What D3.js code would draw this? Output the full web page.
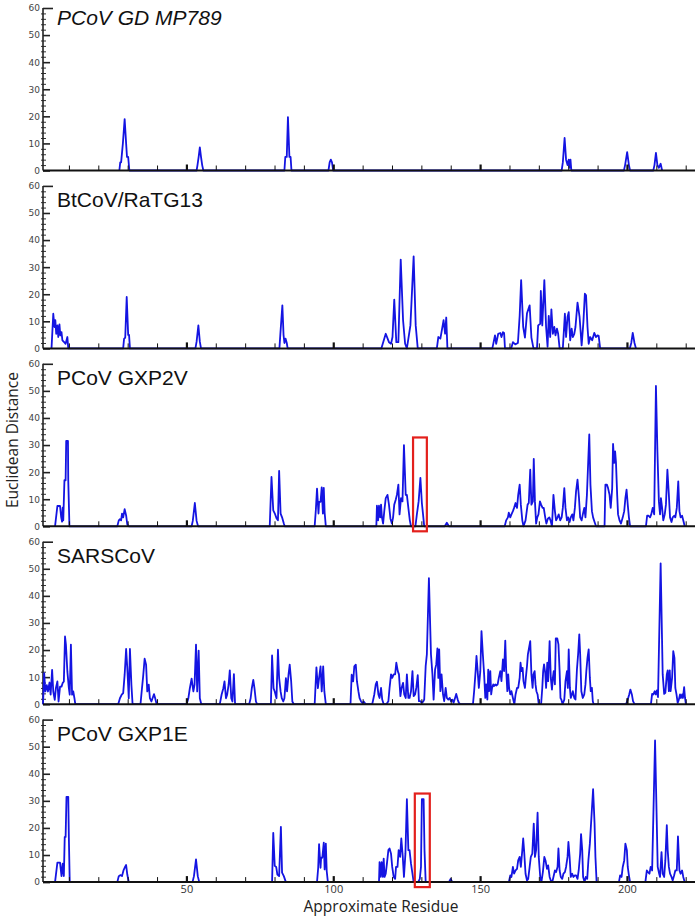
<!DOCTYPE html>
<html lang="en">
<head>
<meta charset="UTF-8">
<title>Euclidean distance by residue</title>
<script src="https://d3js.org/d3.v7.min.js"></script>
<style>
  body { margin: 0; background: #fff; }
  svg { display: block; }
  .title { font-family: 'Liberation Sans', Arial, sans-serif; font-size: 21px; fill: #111; }
  .ylab { font-family: 'DejaVu Sans', sans-serif; font-size: 9px; fill: #444; }
  .xlab { font-family: 'Open Sans', sans-serif; font-size: 11px; fill: #333; }
  .axtitle { font-family: 'Open Sans', sans-serif; font-size: 15.5px; fill: #222; }
</style>
</head>
<body>
<svg></svg>
<script>
// panel names, top to bottom
const panelNames = ["PCoV GD MP789", "BtCoV/RaTG13", "PCoV GXP2V", "SARSCoV", "PCoV GXP1E"];

// [residue, euclidean distance]
const gdMP789 = [
  [27.0,0],[27.3,3],[27.6,3],[28.2,10],[28.8,19],[29.3,10],[29.6,5],[30.0,5],[30.4,0],
  [53.3,0],[53.6,2],[54.0,5],[54.4,8.5],[54.8,5],[55.2,2],[55.6,0],
  [83.2,0],[83.5,5],[84.0,5],[84.4,19.7],[84.9,5],[85.3,5],[85.6,0],
  [98.2,0],[98.6,3],[99.0,4],[99.4,3],[99.8,0],
  [177.6,0],[178.0,3],[178.6,12],[179.1,4],[179.6,2],[180.0,4],[180.3,1],[180.6,4],[180.9,0],
  [198.8,0],[199.2,2],[199.9,6.8],[200.5,2],[200.9,0],
  [208.8,0],[209.2,2],[209.7,6.5],[210.2,2],[210.7,1],[211.3,2.5],[211.8,0]
];

const ratg13 = [
  [3.9,0],[4.5,12.8],[4.9,7.9],[5.2,10.4],[5.5,5.4],[5.9,8.5],[6.2,4.2],[6.6,8.9],[6.9,4.8],[7.3,6.0],[7.6,3],[8.2,2.3],[8.7,1.7],[9.3,4.2],[9.6,0],
  [28.3,0],[28.6,3.5],[29.0,4],[29.5,19],[30.0,5],[30.3,5],[30.6,0],
  [52.9,0],[53.3,2.5],[53.9,8.5],[54.4,2.5],[54.8,0],
  [81.5,0],[81.8,5],[82.5,15.9],[82.9,5],[83.2,2],[83.6,3.6],[84.0,2],[84.3,0],
  [116.2,0],[117.7,5.4],[118.8,2.3],[119.5,1.7],[120.0,4.2],[120.6,18],[121.3,2.3],[122.0,2.3],[122.8,32.8],[123.6,10.4],[124.3,1.7],[124.9,0],[126.1,8.5],[127.2,34],[127.9,8.5],[128.6,0],
  [135.1,0],[135.6,4.2],[136.3,3.6],[137.4,10.4],[137.9,5.4],[138.3,11.4],[138.7,0],
  [154.0,0],[154.9,4.8],[155.3,1.7],[156.0,5.4],[156.7,5.7],[157.1,4.2],[157.6,6.0],[158.0,5.7],[158.3,0],
  [160.4,0],[161.0,2.3],[161.8,1.5],[162.7,2],[163.3,12],[163.8,25.2],[164.5,8],[165.1,4],[165.8,13],[166.7,15.9],[167.3,4],[168.0,0],
  [169.2,0],[169.6,8.5],[170.3,9.1],[170.5,21.2],[171.0,8.5],[171.7,25.2],[172.3,7.9],[172.8,0.6],[173.2,12],[173.7,4.2],[174.1,14.4],[174.6,5.4],[175.1,7.9],[175.5,4.8],[176.0,7.3],[176.4,5.4],[176.9,0],
  [178.0,0],[178.7,12.8],[179.1,4.2],[179.6,11.6],[180.0,13.4],[180.5,3],[181.0,7.3],[181.4,4.2],[181.9,5.4],[182.3,7.9],[183.0,16.9],[183.7,11.6],[184.4,1.1],[185.0,9.7],[185.5,20.2],[185.9,19.6],[186.4,7.9],[186.8,1.7],[187.3,4.2],[188.0,3],[188.7,5.7],[189.3,4.2],[189.8,4.8],[190.2,4.6],[190.7,0],
  [200.8,0],[201.3,2],[201.8,5.7],[202.4,2],[202.9,0]
];

const gxp2v = [
  [5.1,0],[5.9,7.5],[6.8,7.5],[7.2,3.3],[7.5,1.7],[7.7,6.9],[7.9,2.2],[8.3,17],[8.7,17],[8.9,31.5],[9.5,31.5],[9.6,17],[10.0,0],
  [26.3,0],[26.8,2.2],[27.2,2.6],[27.6,2.2],[27.9,4.7],[28.3,3.3],[28.8,6.3],[29.3,4],[29.7,0.7],[30.2,0],
  [51.6,0],[52.0,2],[52.7,8.6],[53.3,2],[53.8,0],
  [78.2,0],[78.8,18.2],[79.4,5.9],[79.9,4.8],[80.5,3],[81.0,2.2],[81.4,20.5],[81.9,4.7],[82.4,3.3],[83.0,1],[83.3,0],
  [93.5,0],[93.9,6],[94.3,13.9],[94.8,4.7],[95.0,9],[95.5,9],[95.9,14.4],[96.3,4.7],[96.6,14.2],[96.9,5],[97.3,0],
  [114.5,0],[114.7,7.6],[115.1,2.2],[115.4,7.6],[115.8,3.3],[116.1,8],[116.4,3.3],[116.8,1],[117.2,5.6],[117.7,10.4],[118.3,11.6],[118.8,8],[119.3,2.8],[119.8,1],[120.2,3.3],[120.6,8],[121.1,9.8],[121.5,11.6],[122.0,15.4],[122.4,4.4],[122.9,10.4],[123.4,9.2],[123.9,30],[124.5,11.6],[124.9,11.6],[125.4,6.8],[125.9,2.2],[126.3,0],
  [127.8,0],[128.3,4.4],[128.9,9.2],[129.5,17.9],[130.0,8.6],[130.4,4.4],[130.8,0],
  [137.8,0],[138.5,1.3],[139.2,0],
  [158.2,0],[158.7,2.2],[159.3,3.3],[159.6,5],[160.1,3.3],[160.5,4.4],[161.0,5.6],[161.4,6.8],[161.9,8.6],[162.4,6.8],[162.8,11.6],[163.3,15.4],[163.7,8],[164.2,2.2],[164.6,0],
  [165.3,2.2],[166.0,8],[166.4,8.6],[166.9,20.9],[167.3,8],[167.8,9.2],[168.1,24.9],[168.5,9.2],[168.9,1],[169.3,3.3],[169.7,4.4],[170.2,9.2],[170.6,8],[171.1,6.8],[171.5,6.8],[172.0,3.3],[172.4,1],[172.9,2.8],[173.4,3.3],[173.8,2.2],[174.3,0],
  [174.8,11.6],[175.3,5.6],[175.7,2.2],[176.2,3.3],[176.6,4.4],[177.1,2.2],[177.6,3.3],[178.0,6.8],[178.5,14.1],[178.9,6.8],[179.4,2.2],[179.8,3.3],[180.3,1.6],[180.7,3.3],[181.2,4.4],[181.6,2.2],[182.1,6.8],[182.5,12.9],[183.0,17.2],[183.5,10.4],[183.9,3.3],[184.4,2.2],[184.8,4.4],[185.3,6.8],[185.7,3.3],[186.2,11.6],[187.0,33.9],[187.4,15.4],[187.9,5.6],[188.3,3.3],[188.8,1.6],[189.3,0],
  [192.2,0],[192.5,15.4],[193.0,15.4],[193.4,14.1],[193.9,11.6],[194.3,6.8],[194.8,14.1],[195.1,30.4],[195.5,23.4],[195.8,27.7],[196.1,23.4],[196.5,11.6],[196.8,4.4],[197.3,2.2],[197.8,1],[198.4,3.3],[198.9,5.6],[199.3,10.4],[199.7,13.5],[200.1,8],[200.5,3.3],[200.9,0],
  [206.3,0],[206.7,3.9],[207.2,3.9],[207.7,3.3],[208.1,4.4],[208.6,6.8],[209.1,4.4],[209.7,51.8],[210.2,27.7],[210.7,9.2],[211.1,4.4],[211.4,10.4],[211.8,6.8],[212.2,2.2],[212.7,4.4],[213.1,8],[213.6,20.9],[214.1,11.6],[214.5,3.3],[215.0,1.6],[215.4,3.3],[215.9,3.9],[216.3,3.3],[216.8,6.8],[217.3,16.6],[217.7,5.6],[218.1,3.3],[218.6,3.9],[219.0,2.2],[219.5,0]
];

const sarscov = [
  [1.0,0],[1.4,11.5],[1.8,4.7],[2.3,7],[2.7,4.7],[3.2,8],[3.6,3.5],[4.1,12.7],[4.5,4.7],[5.0,1.6],[5.4,6],[5.9,8.4],[6.3,1],[6.8,6.5],[7.3,6.5],[7.7,7.8],[8.1,8.4],[8.5,25],[8.8,22],[9.3,12],[9.8,6],[10.1,3.5],[10.5,22],[10.9,3.5],[11.3,4.7],[11.7,2.2],[12.0,0],
  [26.6,0],[27.2,2.2],[27.8,3.5],[28.3,4.1],[28.8,10.9],[29.3,20.4],[29.7,13.3],[30.2,2.2],[30.6,20.4],[31.1,7.2],[31.5,0],
  [34.2,0],[34.7,5.9],[35.1,10.3],[35.6,16.8],[36.1,14.6],[36.5,4.7],[37.0,7.2],[37.4,2.2],[37.9,1],[38.3,2.2],[38.8,3.7],[39.2,2.2],[39.7,0],
  [49.9,0],[50.5,2.2],[51.0,5.9],[51.6,9.4],[52.2,4.7],[52.6,7.2],[53.1,22],[53.5,4.7],[54.0,19.8],[54.4,2.2],[54.9,0],
  [61.2,0],[61.8,3.5],[62.4,5.9],[62.8,8.4],[63.3,2.2],[63.7,3.5],[64.2,7.2],[64.6,12.5],[65.1,2.2],[65.5,1],[66.0,11.1],[66.4,0],
  [71.2,0],[71.7,2.2],[72.1,5.9],[72.6,9],[73.0,5.9],[73.5,1],[73.9,0],
  [78.6,0],[79.0,18],[79.5,5.9],[79.9,4.7],[80.5,2.2],[81.0,20.1],[81.4,9.6],[81.9,4.7],[82.3,2.2],[82.8,1],[83.2,2.2],[83.7,9.6],[84.1,4.7],[84.6,10.9],[85.0,14.6],[85.5,8.4],[85.9,1],[86.4,0],
  [93.5,0],[94.1,13.6],[94.6,5.9],[95.0,9.6],[95.5,14],[95.9,4.7],[96.4,14],[96.8,4.7],[97.3,0],
  [105.7,0],[106.1,10.9],[106.6,8.4],[107.0,14],[107.5,14.6],[107.9,8.4],[108.4,4.7],[108.8,2.2],[109.3,1],[109.8,0.4],[110.2,1],[110.9,0],
  [113.1,0],[113.8,3.6],[114.3,7.3],[114.7,8.3],[115.2,3.6],[115.6,2.3],[116.1,6],[116.5,1.7],[117.0,0],[117.9,0],[118.6,1.1],[119.0,6],[119.5,11],[119.9,9.7],[120.4,11],[120.9,11],[121.3,15.3],[121.8,12.2],[122.2,11],[122.7,3],[123.1,6],[123.6,7.9],[124.0,3.6],[124.5,2.3],[124.9,11],[125.4,2.3],[125.8,2.3],[126.3,4.8],[126.8,12.2],[127.2,3],[127.7,3.6],[128.1,6],[128.6,10.7],[129.0,1.1],[129.5,1.1],[129.9,0.5],[130.4,0.9],[130.8,1.7],[131.3,14.1],[131.7,18.4],[132.4,46.5],[133.1,18.4],[133.6,11],[134.0,1.7],[134.5,12.8],[134.9,14.7],[135.3,20.6],[135.6,9.7],[135.9,20.2],[136.3,4.8],[136.7,11],[137.2,3.6],[137.6,1.1],[138.1,6],[138.5,2.3],[139.0,1.7],[139.5,2.3],[139.9,1.1],[140.4,1.7],[140.8,0.5],[141.3,2.3],[141.7,3.8],[142.2,1.7],[142.6,0.5],[143.1,0],
  [147.4,0],[147.8,4.8],[148.3,12.2],[148.6,17.8],[149.0,12.2],[149.4,6],[149.9,12.2],[150.3,27],[150.8,17.8],[151.2,11],[151.6,2.3],[151.9,7.3],[152.3,1.7],[152.6,12.8],[152.9,4.8],[153.3,12.2],[153.6,3.6],[153.9,6],[154.3,7.3],[154.6,6.7],[155.0,7.3],[155.3,6.9],[155.8,7.3],[156.2,9.7],[156.7,12.2],[157.1,8.5],[157.6,16.5],[158.0,12.2],[158.4,23.5],[158.7,12.8],[159.1,4.8],[159.4,11],[159.7,6],[160.1,3.6],[160.5,4.8],[161.0,2.3],[161.5,0],
  [161.9,3.6],[162.4,6],[162.8,6],[163.3,9.7],[163.6,15.3],[163.9,12.2],[164.3,13.4],[164.6,8.5],[165.1,6],[165.4,9.7],[165.8,14.1],[166.1,18.4],[166.4,20.2],[166.9,23.3],[167.3,11],[167.7,6],[168.0,11],[168.4,12.2],[168.7,7.3],[169.0,4.8],[169.4,3.6],[169.8,0],
  [170.6,0],[171.0,6],[171.3,12.2],[171.6,14.7],[172.0,11.6],[172.3,6],[172.7,15.3],[173.0,8.5],[173.5,23.3],[173.9,9.7],[174.3,5.4],[174.6,9.7],[174.9,12.2],[175.3,7.3],[175.6,24.3],[176.1,24.3],[176.5,22.1],[176.9,12.2],[177.2,2.3],[177.5,1.7],[177.9,0],
  [178.5,1.7],[178.9,8.5],[179.4,12.2],[179.7,6],[180.0,20.2],[180.4,6],[180.7,2.3],[181.1,3.6],[181.4,4.8],[181.9,2.3],[182.3,1.7],[182.8,12.8],[183.2,18.4],[183.6,25.8],[183.9,18.4],[184.3,4.8],[184.8,2.3],[185.3,3.6],[185.7,7.3],[186.0,12.2],[186.4,17.1],[186.8,20.2],[187.2,9.7],[187.5,4.8],[187.9,6],[188.2,1.1],[188.5,0],
  [199.5,0],[200.1,1.7],[200.6,3.6],[201.0,5.4],[201.5,3.6],[201.9,1.1],[202.4,0],
  [208.0,0],[208.4,3.8],[208.8,3.6],[209.3,4.8],[209.6,3.6],[210.0,5.1],[210.4,2.6],[211.3,52],[212.0,11],[212.5,3.8],[212.9,4.2],[213.4,11],[213.7,12.5],[214.1,4.8],[214.4,12.5],[214.7,4.8],[215.2,9.7],[215.6,19.6],[216.0,17.1],[216.3,6],[216.7,3.6],[217.1,0.5],[217.5,1.7],[217.9,3.6],[218.2,2.3],[218.6,3.6],[218.9,2.3],[219.3,6.3],[219.6,2.3],[219.9,0]
];

const gxp1e = [
  [5.1,0],[5.9,7.2],[6.8,7.2],[7.3,2.2],[7.7,6.8],[8.1,2.2],[8.4,16.7],[8.7,16.7],[9.0,31.5],[9.6,31.5],[9.8,16.7],[10.1,0],
  [26.3,0],[26.8,2.2],[27.4,2.6],[27.9,2.2],[28.4,4.3],[28.8,5.3],[29.3,6.3],[29.7,2.8],[30.2,0],
  [51.9,0],[52.4,2.2],[53.1,8.4],[53.7,2.2],[54.2,0],
  [79.0,0],[79.4,18.2],[79.9,6],[80.4,5.6],[80.8,2.8],[81.4,2.2],[82.0,20.4],[82.4,3.5],[83.0,2.2],[83.7,0],
  [94.3,0],[94.7,5.3],[95.0,14],[95.5,5.3],[95.7,9],[96.1,9],[96.6,14.6],[96.9,4.7],[97.3,14.2],[97.6,4.1],[98.0,0],
  [115.4,0],[115.6,7.4],[116.0,1.9],[116.3,7.4],[116.7,1.9],[117.0,8.7],[117.3,1.9],[117.7,3.1],[118.1,6.8],[118.6,11.8],[119.0,12.4],[119.5,10.5],[119.9,5.6],[120.4,1.9],[120.9,1.2],[121.2,5.6],[121.7,5.6],[122.1,11.8],[122.6,9.3],[123.0,16.1],[123.5,9.3],[123.9,1.9],[124.4,10.5],[124.9,30.6],[125.4,11.8],[125.8,11.8],[126.3,6.8],[126.8,3.1],[127.2,0],
  [128.7,0],[129.3,1.2],[129.7,5.6],[130.0,30.6],[130.6,30.6],[130.9,11.8],[131.3,0],
  [139.2,0],[139.8,1.2],[140.4,0],
  [159.6,0],[160.1,2.5],[160.5,1.9],[161.0,5.6],[161.4,3.1],[161.9,4.3],[162.4,4.9],[162.8,8],[163.3,9.3],[163.7,5.6],[164.2,11.8],[164.5,16.1],[164.8,11.8],[165.3,3.1],[165.8,0.6],[166.2,1.2],[166.7,5.6],[167.1,9.3],[167.6,10.5],[168.1,21.6],[168.5,9.3],[168.9,11.8],[169.4,25.6],[169.8,9.3],[170.3,1.9],[170.7,0],
  [171.2,3.7],[171.7,9.3],[172.1,8],[172.6,4.9],[173.0,6.2],[173.5,1.9],[173.9,0.6],[174.4,0],[174.8,1.9],[175.3,4.3],[175.7,3.7],[176.2,5.6],[176.5,12.4],[176.9,4.3],[177.3,1.9],[177.8,1.2],[178.2,3.1],[178.7,3.7],[179.1,5.6],[179.6,9.3],[179.9,14.8],[180.3,9.3],[180.7,1.9],[181.2,3.1],[181.6,1.9],[182.1,2.5],[182.5,2.5],[183.0,1.2],[183.4,4.3],[183.9,10.5],[184.2,17.7],[184.6,11.8],[184.9,1.9],[185.4,0],
  [185.8,1.9],[186.3,1.2],[186.7,8],[187.2,14.2],[188.3,34.3],[188.8,21.6],[189.1,9.3],[189.5,0],
  [197.1,0],[197.5,2.5],[198.0,1.9],[198.4,5.6],[198.9,8],[199.3,14.2],[199.8,11.8],[200.1,5.6],[200.5,2.5],[200.9,0],
  [206.1,0],[206.6,4.3],[207.0,3.7],[207.5,3.1],[207.9,5.6],[208.4,4.3],[209.4,52.3],[210.3,5.6],[210.8,3.1],[211.1,1.9],[211.6,11.1],[212.0,3.1],[212.5,1.9],[212.9,8],[213.4,21],[213.7,11.8],[214.1,5.6],[214.5,3.1],[215.0,1.9],[215.4,0.6],[215.9,2.5],[216.3,4.3],[216.8,4.3],[217.2,16.9],[217.7,4.3],[218.1,3.1],[218.6,4.3],[219.0,1.9],[219.5,0]
];

const series = [gdMP789, ratg13, gxp2v, sarscov, gxp1e];

// axis ticks
const yTicks = [0, 10, 20, 30, 40, 50, 60];
const yMinorTicks = [2, 4, 6, 8, 12, 14, 16, 18, 22, 24, 26, 28, 32, 34, 36, 38, 42, 44, 46, 48, 52, 54, 56, 58];
const xTicks = [10, 20, 30, 40, 50, 60, 70, 80, 90, 100, 110, 120, 130, 140, 150, 160, 170, 180, 190, 200, 210, 220];
const xTickLabels = [50, 100, 150, 200];

// highlighted residue windows (panel index, residue from/to, box top value)
const boxPanels = [2, 4];
const boxFrom = [127.0, 127.6];
const boxTo = [131.7, 132.7];
const boxTop = [32.8, 32.7];

const width = 700, height = 918;
const svg = d3.select("svg").attr("width", width).attr("height", height);

const x = d3.scaleLinear().domain([1, 223]).range([43, 695]);
const line = d3.line().x(d => x(d[0]));

panelNames.forEach((name, i) => {
    const top = 8 + i * 177.9;
    const y = d3.scaleLinear().domain([0, 60]).range([top + 162.5, top]);
    const g = svg.append("g");

    // y axis: labels, minor and major ticks
    g.append("g")
        .attr("transform", "translate(43,0)")
        .call(d3.axisLeft(y).tickValues(yTicks).tickSize(0).tickPadding(3))
        .call(a => a.select(".domain").remove())
        .selectAll("text").attr("class", "ylab").attr("font-family", null).attr("font-size", null).attr("fill", null);

    g.append("g")
        .attr("transform", "translate(41,0)")
        .call(d3.axisRight(y).tickValues(yMinorTicks).tickSize(5).tickFormat(""))
        .call(a => a.select(".domain").remove())
        .selectAll("line").attr("stroke", "#333").attr("stroke-width", 1);

    g.append("g")
        .attr("transform", "translate(43,0)")
        .call(d3.axisRight(y).tickValues(yTicks).tickSize(7).tickFormat(""))
        .call(a => a.select(".domain").attr("d", `M0,${y(0)}V${y(60)}`).attr("stroke", "#222").attr("stroke-width", 1.6))
        .selectAll("line").attr("stroke", "#222").attr("stroke-width", 1.6)
        .attr("x2", d => d === 60 ? 10 : 7);

    // data line
    g.append("path")
        .datum(series[i])
        .attr("fill", "none")
        .attr("stroke", "#1414e2")
        .attr("stroke-width", 1.8)
        .attr("stroke-linejoin", "round")
        .attr("d", line.y(d => y(d[1])));

    // x axis baseline with inward ticks
    g.append("line")
        .attr("x1", x(1)).attr("x2", x(223))
        .attr("y1", y(0)).attr("y2", y(0))
        .attr("stroke", "#111").attr("stroke-width", 2);

    g.selectAll("line.xt").data(xTicks).enter().append("line")
        .attr("class", "xt")
        .attr("x1", d => x(d)).attr("x2", d => x(d))
        .attr("y1", y(0)).attr("y2", d => y(0) - (d % 50 === 0 ? 6 : 5))
        .attr("stroke", "#111")
        .attr("stroke-width", d => d % 50 === 0 ? 2.2 : 1);

    // panel title
    g.append("text")
        .attr("class", "title")
        .attr("x", 57)
        .attr("y", top + (i === 0 ? 17 : 21.5))
        .attr("font-style", i === 0 ? "italic" : null)
        .text(name);

    // red highlight boxes
    boxPanels.forEach((p, k) => {
        if (p !== i) return;
        g.append("rect")
            .attr("x", x(boxFrom[k]))
            .attr("y", y(boxTop[k]))
            .attr("width", x(boxTo[k]) - x(boxFrom[k]))
            .attr("height", y(0) + 5 - y(boxTop[k]))
            .attr("fill", "none")
            .attr("stroke", "#e3201c")
            .attr("stroke-width", 2.2);
    });

    // x tick labels only on the bottom panel
    if (i === panelNames.length - 1) {
        g.selectAll("text.xl").data(xTickLabels).enter().append("text")
            .attr("class", "xlab")
            .attr("x", d => x(d))
            .attr("y", y(0) + 11)
            .attr("text-anchor", "middle")
            .text(d => d);
    }
});

svg.append("text")
    .attr("class", "axtitle")
    .attr("transform", "translate(18,440) rotate(-90)")
    .attr("text-anchor", "middle")
    .text("Euclidean Distance");

svg.append("text")
    .attr("class", "axtitle")
    .attr("x", 381)
    .attr("y", 912)
    .attr("text-anchor", "middle")
    .text("Approximate Residue");
</script>
</body>
</html>
